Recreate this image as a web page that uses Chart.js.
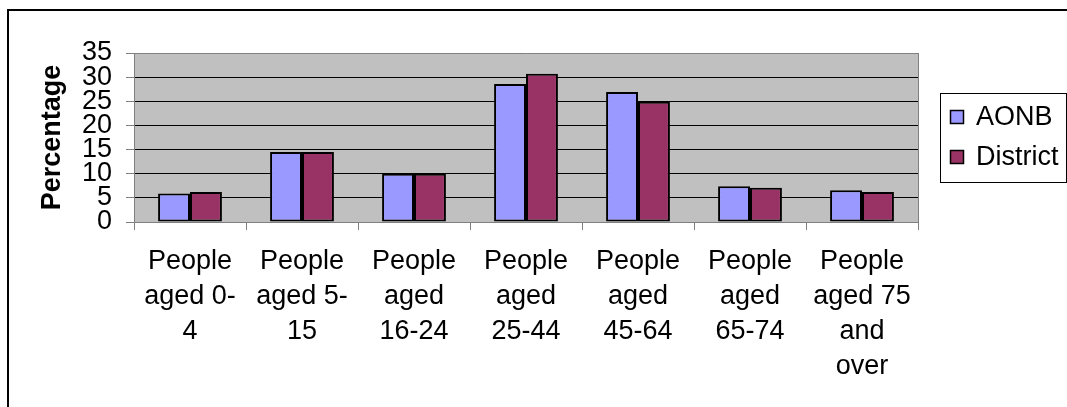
<!DOCTYPE html>
<html>
<head>
<meta charset="utf-8">
<script src="https://cdn.jsdelivr.net/npm/chart.js@4/dist/chart.umd.min.js"></script>
<style>
  html, body { margin: 0; padding: 0; background: #fff; overflow: hidden; }
  #wrap { position: relative; width: 1067px; height: 407px; overflow: hidden; }
  #frame { position: absolute; left: 7px; top: 9px; width: 1100px; height: 450px; border: 2px solid #000; box-sizing: border-box; }
  canvas { position: absolute; left: 0; top: 0; }
</style>
</head>
<body>
<div id="wrap">
  <div id="frame"></div>
  <canvas id="chart" width="1067" height="407"></canvas>
</div>
<script>
// Age bands shown along the x axis (each split over several lines)
const categories = [
  ['People', 'aged 0-', '4'],
  ['People', 'aged 5-', '15'],
  ['People', 'aged', '16-24'],
  ['People', 'aged', '25-44'],
  ['People', 'aged', '45-64'],
  ['People', 'aged', '65-74'],
  ['People', 'aged 75', 'and', 'over']
];
const seriesNames = ['AONB', 'District'];
const aonbValues = [5.9, 14.5, 10.0, 28.6, 26.9, 7.4, 6.6];
const districtValues = [6.2, 14.5, 10.0, 30.7, 24.9, 7.1, 6.2];
const yTicks = [0, 5, 10, 15, 20, 25, 30, 35];

const FONT = '"Liberation Sans", Arial, sans-serif';
const GREY = '#808080';

// Grey plot background plus a grey right-hand border
const plotArea = {
  id: 'plotArea',
  beforeDraw(chart) {
    const { ctx, chartArea: a } = chart;
    ctx.save();
    ctx.fillStyle = '#C0C0C0';
    ctx.fillRect(a.left, a.top, a.right - a.left, a.bottom - a.top);
    ctx.restore();
  },
  beforeDatasetsDraw(chart) {
    const { ctx, chartArea: a } = chart;
    ctx.save();
    ctx.strokeStyle = GREY;
    ctx.lineWidth = 1;
    ctx.beginPath();
    ctx.moveTo(a.right + 0.5, a.top);
    ctx.lineTo(a.right + 0.5, a.bottom);
    ctx.stroke();
    ctx.restore();
  }
};

// Boxed legend to the right of the plot, built from the datasets
const boxedLegend = {
  id: 'boxedLegend',
  afterDraw(chart) {
    const { ctx } = chart;
    const x0 = 940.5, y0 = 93.5, w = 126, h = 89;
    ctx.save();
    ctx.fillStyle = '#fff';
    ctx.fillRect(x0, y0, w, h);
    ctx.strokeStyle = '#000';
    ctx.lineWidth = 1;
    ctx.strokeRect(x0, y0, w, h);
    ctx.font = '27px ' + FONT;
    ctx.textBaseline = 'middle';
    ctx.textAlign = 'left';
    chart.data.datasets.forEach((ds, i) => {
      const cy = 117 + i * 40;
      ctx.fillStyle = ds.backgroundColor;
      ctx.fillRect(950.5, cy - 6.5, 13, 13);
      ctx.strokeStyle = '#000';
      ctx.lineWidth = 1.5;
      ctx.strokeRect(950.5, cy - 6.5, 13, 13);
      ctx.fillStyle = '#000';
      ctx.fillText(ds.label, 976, cy + 1);
    });
    ctx.restore();
  }
};

new Chart(document.getElementById('chart'), {
  type: 'bar',
  data: {
    labels: categories,
    datasets: [
      { label: seriesNames[0], data: aonbValues, backgroundColor: '#9999FF' },
      { label: seriesNames[1], data: districtValues, backgroundColor: '#993366' }
    ].map(d => Object.assign(d, {
      borderColor: '#000',
      borderWidth: 2,
      borderSkipped: false,
      categoryPercentage: 0.57,
      barPercentage: 1.0
    }))
  },
  options: {
    responsive: false,
    animation: false,
    devicePixelRatio: 1,
    layout: { padding: { top: 53, right: 149, left: 0, bottom: 0 } },
    plugins: {
      legend: { display: false },
      tooltip: { enabled: false }
    },
    scales: {
      x: {
        offset: true,
        grid: {
          display: true,
          offset: true,
          drawOnChartArea: false,
          tickLength: 8,
          tickColor: GREY
        },
        border: { color: GREY, width: 1 },
        ticks: {
          color: '#000',
          maxRotation: 0,
          autoSkip: false,
          padding: 14,
          font: { family: FONT, size: 27, lineHeight: 1.3 }
        },
        afterFit(scale) { scale.height = 185; }
      },
      y: {
        min: 0,
        max: 35,
        afterBuildTicks(scale) { scale.ticks = yTicks.map(v => ({ value: v })); },
        grid: {
          color: ctx => (ctx.tick && (ctx.tick.value === 35 || ctx.tick.value === 0)) ? GREY : '#000',
          tickColor: GREY,
          tickLength: 8,
          lineWidth: 1
        },
        border: { color: GREY, width: 1 },
        ticks: {
          color: '#000',
          autoSkip: false,
          padding: 14,
          font: { family: FONT, size: 27, lineHeight: 0.8 }
        },
        title: {
          display: true,
          text: 'Percentage',
          color: '#000',
          padding: { top: 36, bottom: 0 },
          font: { family: FONT, size: 27, weight: 'bold', lineHeight: 1.2 }
        },
        afterFit(scale) { scale.width = 134; }
      }
    }
  },
  plugins: [plotArea, boxedLegend]
});
</script>
</body>
</html>
